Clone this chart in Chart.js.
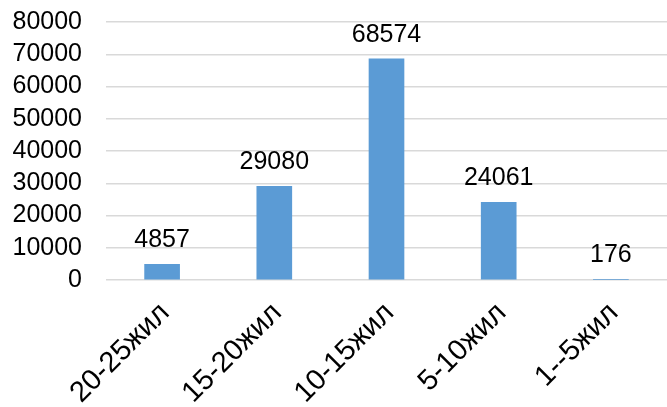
<!DOCTYPE html>
<html>
<head>
<meta charset="utf-8">
<script src="https://cdn.jsdelivr.net/npm/chart.js@4"></script>
<style>
  html, body { margin: 0; padding: 0; background: #fff; }
  #wrap { width: 667px; height: 407px; }
</style>
</head>
<body>
<div id="wrap"><canvas id="chart" width="667" height="407"></canvas></div>
<script>
const categories = ["20-25жил", "15-20жил", "10-15жил", "5-10жил", "1--5жил"];
const values = [4857, 29080, 68574, 24061, 176];
const yMax = 80000;
const yStep = 10000;

const FONT = "'Liberation Sans', Arial, sans-serif";

// draws the value above each bar
const barLabels = {
  id: "barLabels",
  afterDatasetsDraw(chart) {
    const ctx = chart.ctx;
    const meta = chart.getDatasetMeta(0);
    ctx.save();
    ctx.font = `25px ${FONT}`;
    ctx.fillStyle = "#000";
    ctx.textAlign = "center";
    ctx.textBaseline = "alphabetic";
    meta.data.forEach((bar, i) => {
      ctx.fillText(String(values[i]), bar.x, bar.y - 17);
    });
    ctx.restore();
  },
};

new Chart(document.getElementById("chart").getContext("2d"), {
  type: "bar",
  data: {
    labels: categories,
    datasets: [
      {
        data: values,
        backgroundColor: "#5b9bd5",
        barThickness: 35,
      },
    ],
  },
  options: {
    responsive: false,
    animation: false,
    layout: { padding: { top: 22, right: -4, left: 0, bottom: 0 } },
    plugins: {
      legend: { display: false },
      tooltip: { enabled: false },
    },
    scales: {
      x: {
        grid: { display: false },
        border: { display: false },
        ticks: {
          color: "#000",
          font: { family: FONT, size: 29 },
          minRotation: 45,
          maxRotation: 45,
          padding: 8,
          labelOffset: 3,
        },
        afterFit(scale) {
          scale.height = 127;
          scale.paddingLeft = 0;
          scale.paddingRight = 0;
        },
      },
      y: {
        min: 0,
        max: yMax,
        grid: { color: "#d9d9d9", lineWidth: 1.5, drawTicks: false },
        border: { display: false },
        ticks: {
          stepSize: yStep,
          autoSkip: false,
          color: "#000",
          font: { family: FONT, size: 25 },
          padding: 24,
          callback: (v) => String(v),
        },
        afterFit(scale) {
          scale.width = 106;
          scale.paddingTop = 0;
          scale.paddingBottom = 0;
        },
      },
    },
  },
  plugins: [barLabels],
});
</script>
</body>
</html>
